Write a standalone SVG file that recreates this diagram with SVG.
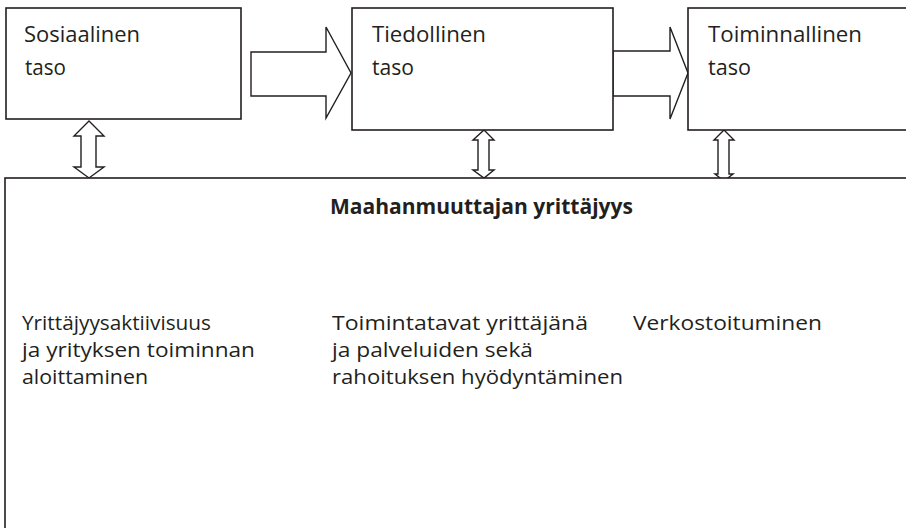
<svg xmlns="http://www.w3.org/2000/svg" width="906" height="528" viewBox="0 0 906 528">
<style>
.box{fill:#fff;stroke:#231f20;stroke-width:1.6}
.arr{fill:#fff;stroke:#231f20;stroke-width:1.4;stroke-linejoin:miter}
.t{font-family:"Open Sans",Lato,"Liberation Sans",sans-serif;font-size:22px;fill:#231f20}
.s{font-size:19.8px}
.b{font-weight:bold}
</style>
<rect x="0" y="0" width="906" height="528" fill="#fff"/>
<g id="connectors">
<polygon class="arr" points="251,52 326,52 326,27 351,73 326,118 326,96 251,96"/>
<polygon class="arr" points="613,51 670,51 670,27 688,73 670,119 670,96 613,96"/>
<polygon class="arr" points="89,121 104,136 96,136 96,167 104,167 89,178 74,167 81,167 81,136 74,136"/>
<polygon class="arr" points="484,130 494,140 489,140 489,170 494,170 484,178 473,170 478,170 478,140 473,140"/>
<polygon class="arr" points="724,130 734,140 729,140 729,174 733,174 724,181 715,174 718,174 718,140 714,140"/>
</g>
<g id="node-sosiaalinen">
<rect class="box" x="6" y="8" width="235" height="111"/>
<text class="t" x="24" y="42" textLength="116" lengthAdjust="spacingAndGlyphs">Sosiaalinen</text>
<text class="t" x="25" y="75" textLength="41" lengthAdjust="spacingAndGlyphs">taso</text>
</g>
<g id="node-tiedollinen">
<rect class="box" x="352" y="8" width="261" height="122"/>
<text class="t" x="372" y="42" textLength="114" lengthAdjust="spacingAndGlyphs">Tiedollinen</text>
<text class="t" x="372" y="75" textLength="42" lengthAdjust="spacingAndGlyphs">taso</text>
</g>
<g id="node-toiminnallinen">
<rect class="box" x="688" y="8" width="240" height="122"/>
<text class="t" x="708" y="42" textLength="154" lengthAdjust="spacingAndGlyphs">Toiminnallinen</text>
<text class="t" x="708" y="75" textLength="43" lengthAdjust="spacingAndGlyphs">taso</text>
</g>
<g id="node-maahanmuuttajan-yrittajyys">
<rect class="box" x="5" y="178" width="920" height="370"/>
<text class="t b" x="330" y="214" textLength="303" lengthAdjust="spacingAndGlyphs">Maahanmuuttajan yrittäjyys</text>
<text class="t s" x="22" y="330" textLength="189" lengthAdjust="spacingAndGlyphs">Yrittäjyysaktiivisuus</text>
<text class="t s" x="22" y="357" textLength="233" lengthAdjust="spacingAndGlyphs">ja yrityksen toiminnan</text>
<text class="t s" x="22" y="384" textLength="126" lengthAdjust="spacingAndGlyphs">aloittaminen</text>
<text class="t s" x="332" y="330" textLength="256" lengthAdjust="spacingAndGlyphs">Toimintatavat yrittäjänä</text>
<text class="t s" x="332" y="357" textLength="201" lengthAdjust="spacingAndGlyphs">ja palveluiden sekä</text>
<text class="t s" x="332" y="384" textLength="291" lengthAdjust="spacingAndGlyphs">rahoituksen hyödyntäminen</text>
<text class="t s" x="633" y="330" textLength="189" lengthAdjust="spacingAndGlyphs">Verkostoituminen</text>
</g>
</svg>
